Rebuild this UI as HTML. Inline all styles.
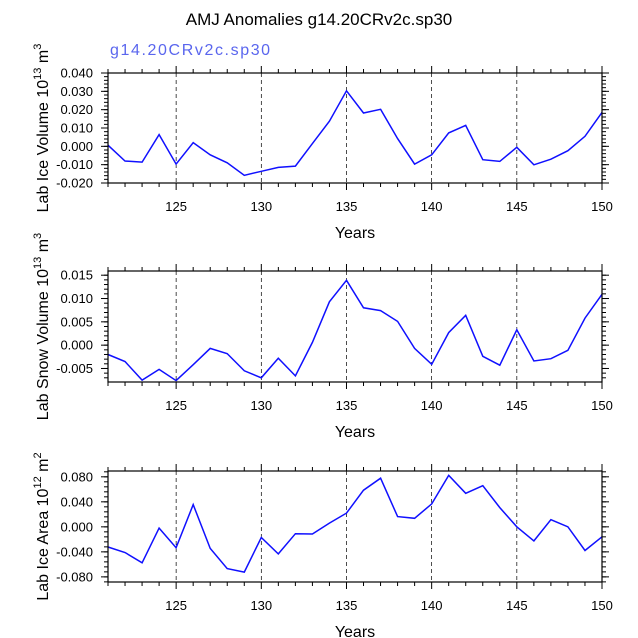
<!DOCTYPE html>
<html><head><meta charset="utf-8"><style>
body{margin:0;background:#fff;}
svg{display:block;font-family:"Liberation Sans",Arial,sans-serif;}
</style></head><body>
<svg id="c" width="638" height="638" viewBox="0 0 638 638">
<text x="319" y="25" text-anchor="middle" font-size="17">AMJ Anomalies g14.20CRv2c.sp30</text>
<text x="110" y="55" font-size="16" letter-spacing="1.6" fill="#5a66ee">g14.20CRv2c.sp30</text>
</svg>
<script>
const years = [121,122,123,124,125,126,127,128,129,130,131,132,133,134,135,136,137,138,139,140,141,142,143,144,145,146,147,148,149,150];
const iceVolume = [0.0006,-0.008,-0.0086,0.0064,-0.0097,0.002,-0.0046,-0.009,-0.0158,-0.0136,-0.0115,-0.0108,0.0015,0.0137,0.0303,0.0182,0.0202,0.0042,-0.0097,-0.0046,0.0073,0.0114,-0.0073,-0.0082,-0.0005,-0.0101,-0.007,-0.0024,0.0055,0.0185];
const snowVolume = [-0.002,-0.0035,-0.0075,-0.0052,-0.0076,-0.0042,-0.0007,-0.0018,-0.0055,-0.007,-0.0028,-0.0066,0.0006,0.0093,0.0139,0.008,0.0074,0.0051,-0.0007,-0.0041,0.0027,0.0064,-0.0024,-0.0043,0.0033,-0.0034,-0.0029,-0.0011,0.0058,0.0109];
const iceArea = [-0.0323,-0.041,-0.0575,-0.002,-0.0334,0.0356,-0.0345,-0.0668,-0.0723,-0.017,-0.0433,-0.011,-0.0115,0.006,0.0219,0.0586,0.0778,0.0164,0.0137,0.0367,0.0822,0.0537,0.0658,0.0307,0,-0.0225,0.0115,0,-0.0378,-0.0159];
const xTicks = [125,130,135,140,145,150];
const ticks1 = [-0.02,-0.01,0,0.01,0.02,0.03,0.04];
const labels1 = ["-0.020","-0.010","0.000","0.010","0.020","0.030","0.040"];
const ticks2 = [-0.005,0,0.005,0.01,0.015];
const labels2 = ["-0.005","0.000","0.005","0.010","0.015"];
const ticks3 = [-0.08,-0.04,0,0.04,0.08];
const labels3 = ["-0.080","-0.040","0.000","0.040","0.080"];

const NS="http://www.w3.org/2000/svg";
const svg=document.getElementById('c');
function mk(tag,attrs,parent){const e=document.createElementNS(NS,tag);for(const k in attrs)e.setAttribute(k,attrs[k]);(parent||svg).appendChild(e);return e;}
const X0=108,X1=602;
const xs=v=>X0+(v-121)/(150-121)*(X1-X0);

function panel(key,top,bot,ymin,ymax,data,ticks,labels,minorStep,title,sup,unitSup){
  const g=mk('g',{});
  
  
  const ys=v=>bot-(v-ymin)/(ymax-ymin)*(bot-top);
  xTicks.slice(0,5).forEach(t=>{const l=mk('line',{x1:xs(t),x2:xs(t),y1:top,y2:bot,stroke:'#000','stroke-width':0.7,'stroke-dasharray':'4,3'},g);
    
    });
  for(let y=121;y<=150;y++){const maj=y%5===0;const L=maj?7:4;
    mk('line',{x1:xs(y),x2:xs(y),y1:bot,y2:bot+L,stroke:'#000','stroke-width':1},g);
    mk('line',{x1:xs(y),x2:xs(y),y1:top,y2:top-L,stroke:'#000','stroke-width':1},g);}
  xTicks.forEach(t=>{const tx=mk('text',{x:xs(t),y:bot+28,'text-anchor':'middle','font-size':13},g);tx.textContent=t;
    
    });
  const start=Math.ceil(ymin/minorStep-1e-6);
  for(let i=start;i*minorStep<=ymax+1e-9;i++){const v=i*minorStep;const yy=ys(v);
    mk('line',{x1:X0,x2:X0-4,y1:yy,y2:yy,stroke:'#000','stroke-width':1},g);
    mk('line',{x1:X1,x2:X1+4,y1:yy,y2:yy,stroke:'#000','stroke-width':1},g);}
  ticks.forEach((t,i)=>{const yy=ys(t);
    mk('line',{x1:X0,x2:X0-7,y1:yy,y2:yy,stroke:'#000','stroke-width':1},g);
    mk('line',{x1:X1,x2:X1+7,y1:yy,y2:yy,stroke:'#000','stroke-width':1},g);
    const tx=mk('text',{x:X0-15,y:yy+4.5,'text-anchor':'end','font-size':13},g);tx.textContent=labels[i];
    
    });
  const pts=data.map((v,i)=>xs(years[i]).toFixed(1)+','+ys(v).toFixed(1)).join(' ');
  const pl=mk('polyline',{points:pts,fill:'none',stroke:'#1010ff','stroke-width':1.5},g);
  
  
  const r=mk('rect',{x:X0,y:top,width:X1-X0,height:bot-top,fill:'none',stroke:'#000','stroke-width':1.2},g);
  
  
  const xt=mk('text',{x:355,y:bot+55,'text-anchor':'middle','font-size':16},g);xt.textContent='Years';
  
  
  const cy=(top+bot)/2;
  const yt=mk('text',{x:0,y:0,'text-anchor':'middle','font-size':16,transform:`translate(48,${cy}) rotate(-90)`},g);
  
  
  yt.innerHTML=`${title} 10<tspan dy="-7" font-size="11">${sup}</tspan><tspan dy="7"> m</tspan><tspan dy="-7" font-size="11">${unitSup}</tspan>`;
}
panel('ice-volume',73,183,-0.02,0.04,iceVolume,ticks1,labels1,0.002,'Lab Ice Volume','13','3');
panel('snow-volume',271,382,-0.0079,0.0159,snowVolume,ticks2,labels2,0.001,'Lab Snow Volume','13','3');
panel('ice-area',471,582,-0.0882,0.0893,iceArea,ticks3,labels3,0.008,'Lab Ice Area','12','2');
</script>
</body></html>
